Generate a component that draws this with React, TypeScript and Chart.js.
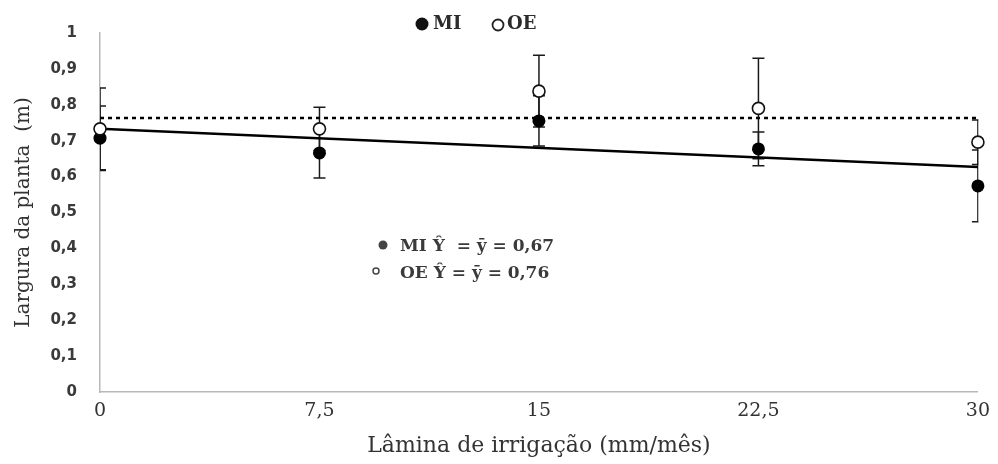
import React, { useEffect, useRef } from "react";
import { Chart, registerables } from "chart.js";

Chart.register(...registerables);

const xValues = [0, 7.5, 15, 22.5, 30];
const miMeans = [0.707, 0.666, 0.755, 0.677, 0.574];
const oeMeans = [0.733, 0.733, 0.838, 0.79, 0.696];
const miErrors = [0.09, 0.07, 0.07, 0.047, 0.1];
const oeErrors = [0.114, 0.06, 0.1, 0.14, 0.062];
const trendX = [0, 30];
const miTrend = [0.733, 0.627];
const oeTrend = [0.763, 0.763];
const legendLabels = ["MI", "OE"];
const annotations = ["MI Ŷ  = ȳ = 0,67", "OE Ŷ = ȳ = 0,76"];
const xTitle = "Lâmina de irrigação (mm/mês)";
const yTitle = "Largura da planta  (m)";

const fmt = (v: number) => String(Number(v.toFixed(2))).replace(".", ",");

const errorBarPlugin = {
  id: "errorBars",
  beforeDatasetsDraw(chart: any) {
    const { ctx, chartArea, scales } = chart;
    const xs = scales.x;
    const ys = scales.y;
    ctx.save();
    ctx.beginPath();
    ctx.rect(chartArea.left, 0, chartArea.right - chartArea.left + 0.5, chart.height);
    ctx.clip();
    ctx.strokeStyle = "#1a1a1a";
    ctx.lineWidth = 1.5;
    const draw = (means: number[], errs: number[]) => {
      xValues.forEach((xv, i) => {
        const px = xs.getPixelForValue(xv);
        const top = ys.getPixelForValue(means[i] + errs[i]);
        const bot = ys.getPixelForValue(means[i] - errs[i]);
        ctx.beginPath();
        ctx.moveTo(px, top);
        ctx.lineTo(px, bot);
        ctx.moveTo(px - 6, top);
        ctx.lineTo(px + 6, top);
        ctx.moveTo(px - 6, bot);
        ctx.lineTo(px + 6, bot);
        ctx.stroke();
      });
    };
    draw(oeMeans, oeErrors);
    draw(miMeans, miErrors);
    ctx.restore();
  },
};

const overlayPlugin = {
  id: "overlay",
  afterDraw(chart: any) {
    const { ctx } = chart;
    ctx.save();
    // legend
    ctx.fillStyle = "#111";
    ctx.beginPath();
    ctx.arc(422, 24, 6.5, 0, Math.PI * 2);
    ctx.fill();
    ctx.strokeStyle = "#222";
    ctx.lineWidth = 1.8;
    ctx.beginPath();
    ctx.arc(498, 25, 5.5, 0, Math.PI * 2);
    ctx.stroke();
    ctx.fillStyle = "#2b2b2b";
    ctx.font = "bold 18px 'DejaVu Serif'";
    ctx.textBaseline = "middle";
    ctx.textAlign = "left";
    ctx.fillText(legendLabels[0], 433, 24);
    ctx.fillText(legendLabels[1], 507, 24);
    // annotations
    ctx.fillStyle = "#444";
    ctx.beginPath();
    ctx.arc(383, 245, 4.5, 0, Math.PI * 2);
    ctx.fill();
    ctx.strokeStyle = "#444";
    ctx.lineWidth = 1.5;
    ctx.beginPath();
    ctx.arc(376, 271, 3, 0, Math.PI * 2);
    ctx.stroke();
    ctx.fillStyle = "#3a3a3a";
    ctx.font = "bold 17px 'DejaVu Serif'";
    ctx.fillText(annotations[0], 400, 247);
    ctx.fillText(annotations[1], 400, 274);
    ctx.restore();
  },
};

export default function App() {
  const ref = useRef<HTMLCanvasElement>(null);
  useEffect(() => {
    document.body.style.margin = "0";
    const chart = new Chart(ref.current as HTMLCanvasElement, {
      type: "scatter",
      data: {
        datasets: [
          {
            label: legendLabels[1],
            data: xValues.map((x, i) => ({ x, y: oeMeans[i] })),
            pointRadius: 6,
            pointBackgroundColor: "#ffffff",
            pointBorderColor: "#111",
            pointBorderWidth: 1.6,
            clip: false,
          },
          {
            label: legendLabels[0],
            data: xValues.map((x, i) => ({ x, y: miMeans[i] })),
            pointRadius: 6.5,
            pointBackgroundColor: "#000",
            pointBorderColor: "#000",
            pointBorderWidth: 0,
            clip: false,
          },
          {
            label: "MI trend",
            data: trendX.map((x, i) => ({ x, y: miTrend[i] })),
            showLine: true,
            borderColor: "#000",
            borderWidth: 2.5,
            pointRadius: 0,
          },
          {
            label: "OE trend",
            data: trendX.map((x, i) => ({ x, y: oeTrend[i] })),
            showLine: true,
            borderColor: "#000",
            borderWidth: 2.5,
            borderDash: [4, 4],
            pointRadius: 0,
          },
        ],
      },
      options: {
        animation: false,
        responsive: false,
        layout: { padding: { top: 33, right: 17, left: 0, bottom: 0 } },
        plugins: { legend: { display: false }, tooltip: { enabled: false } },
        scales: {
          x: {
            type: "linear",
            min: 0,
            max: 30,
            grid: { display: false, drawTicks: false },
            border: { display: true, color: "#b8b8b8", width: 1.5 },
            ticks: {
              stepSize: 7.5,
              padding: 8,
              color: "#333",
              font: { family: "'DejaVu Serif'", size: 19 },
              callback: (v: any) => fmt(Number(v)),
            },
            title: {
              display: true,
              text: xTitle,
              color: "#333",
              font: { family: "'DejaVu Serif'", size: 22 },
              padding: { top: 0, bottom: 5 },
            },
            afterFit: (s: any) => {
              s.height = 72;
            },
          },
          y: {
            min: 0,
            max: 1,
            grid: { display: false, drawTicks: false },
            border: { display: true, color: "#b8b8b8", width: 1.5 },
            ticks: {
              stepSize: 0.1,
              padding: 23,
              color: "#3a3a3a",
              font: { family: "'DejaVu Sans'", size: 15, weight: "bold" },
              callback: (v: any) => fmt(Number(v)),
            },
            title: {
              display: true,
              text: yTitle,
              color: "#333",
              font: { family: "'DejaVu Serif'", size: 20 },
              padding: { top: 12, bottom: 0 },
            },
            afterFit: (s: any) => {
              s.width = 100;
            },
          },
        },
      },
      plugins: [errorBarPlugin, overlayPlugin],
    });
    return () => chart.destroy();
  }, []);
  return (
    <div style={{ width: 998, height: 464 }}>
      <canvas ref={ref} width={998} height={464} />
    </div>
  );
}
